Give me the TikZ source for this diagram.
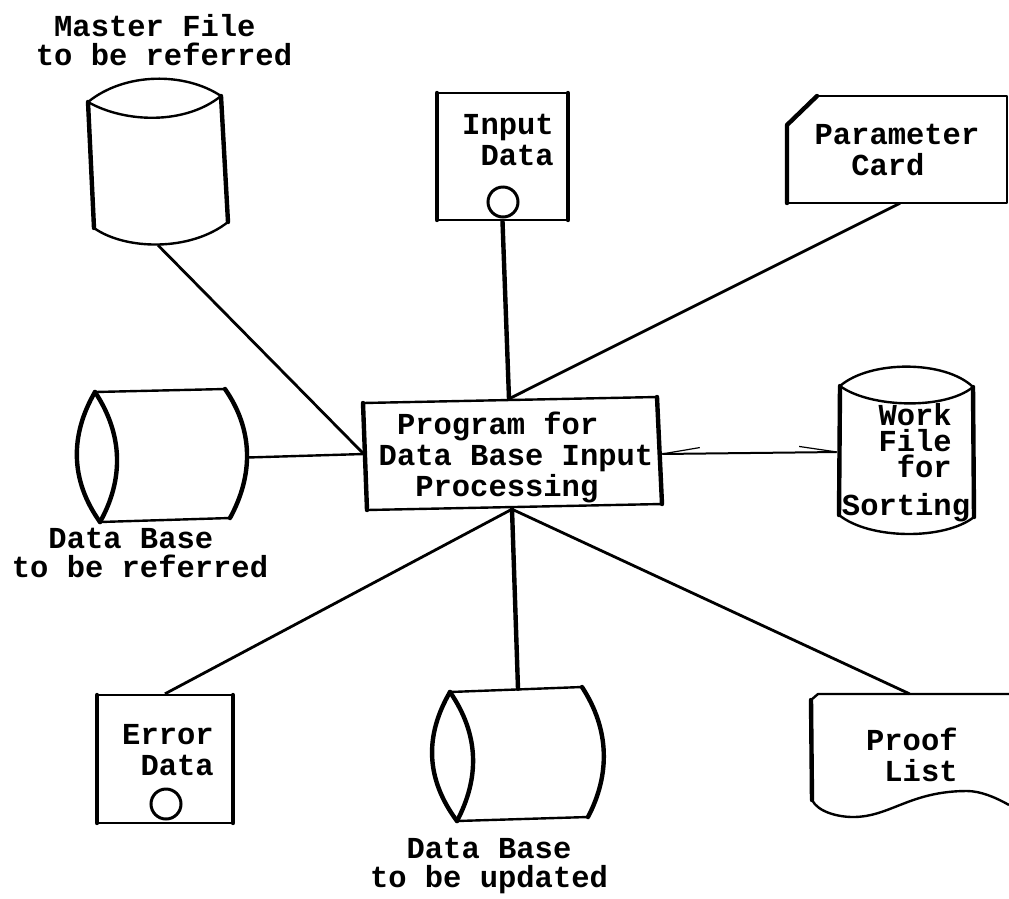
\documentclass[tikz,border=0pt]{standalone}
\usepackage{fontspec}
\setmonofont{Liberation Mono}
\usetikzlibrary{arrows.meta,calc}
\tikzset{
  drumbox/.style={inner sep=0pt, minimum width=#1},
  flowtext/.style={inner sep=0pt, align=center, font=\ttfamily\bfseries\fontsize{30.5}{31}\selectfont},
  captext/.style={inner sep=0pt, align=center, font=\ttfamily\bfseries\fontsize{30.5}{29}\selectfont},
  edge/.style={line width=2.4pt, line join=round},
  heavy/.style={line width=4.4pt, line join=round, line cap=round},
  ring/.style={draw, circle, line width=3pt, minimum size=30pt, inner sep=0pt},
  link/.style={line width=2.8pt},
  barb/.style={line width=2pt, shorten <=-6pt, shorten >=-6pt, {Straight Barb[right,length=38pt,width=12pt,line width=1.2pt]}-{Straight Barb[left,length=38pt,width=12pt,line width=1.2pt]}}}
\begin{document}
\begin{tikzpicture}[x=1pt,y=-1pt]
  \useasboundingbox (0,0) rectangle (1009,898);
  % master file
  \node[drumbox=140pt, minimum height=165pt] (master) at (158,162.5) {};
  \node[captext] (mastertext) at (164,40) {Master File~~\\to be referred};
  \draw[edge] (88,102) .. controls (125,72) and (185,72) .. (221,96);
  \draw[edge] (88,102) .. controls (125,123) and (185,125) .. (221,96);
  \draw[edge] (94,228) .. controls (125,250) and (190,252) .. (228,222);
  \draw[heavy] (88,102) -- (94,228) (221,96) -- (228,222);
  % input data
  \node[draw, edge, minimum width=131pt, minimum height=127pt] (input) at (502.5,156.5) {};
  \draw[heavy] (437,93) -- (437,220) (568,93) -- (568,220);
  \node[flowtext] (inputtext) at (508,140) {Input\\~Data};
  \node[ring] (inputdot) at (503,202) {};
  % parameter card
  \node[drumbox=220pt, minimum height=107pt] (param) at (897,149.5) {};
  \node[flowtext] (paramtext) at (897,150) {Parameter\\Card~~};
  \draw[edge] (817,96) -- (1007,96) -- (1007,203) -- (787,203);
  \draw[heavy] (817,96) -- (787,125) -- (787,203);
  % data base to be referred
  \node[drumbox=170pt, minimum height=133pt] (dbref) at (162,457.5) {};
  \node[captext] (dbreftext) at (140,552.5) {Data Base~~\\to be referred};
  \draw[edge] (95,392) -- (225,389) (100,522) -- (230,518);
  \draw[heavy] (95,392) .. controls (70,435) and (70,480) .. (100,522);
  \draw[heavy] (95,392) .. controls (123.5,435) and (123.5,480) .. (100,522);
  \draw[heavy] (225,389) .. controls (253.5,430) and (253.5,475) .. (230,518);
  % program
  \node[drumbox=296pt, minimum height=110pt] (prog) at (512,454) {};
  \node[flowtext] (progtext) at (516,457) {Program for~~~\\Data Base Input\\Processing~~};
  \draw[edge] (363,403) -- (657,397) (367,510) -- (662,504);
  \draw[heavy] (363,403) -- (367,510) (657,397) -- (662,504);
  % work file
  \node[drumbox=134pt, minimum height=167pt] (work) at (906,452) {};
  \node[flowtext, align=left, font=\ttfamily\bfseries\fontsize{30.5}{26}\selectfont] (worktext) at (906,463) {~~Work\\~~File\\~~~for\\[12pt]Sorting};
  \draw[edge] (840,386) .. controls (870,360) and (945,360) .. (973,387);
  \draw[edge] (840,386) .. controls (870,408) and (945,410) .. (973,387);
  \draw[edge] (839,515) .. controls (870,540) and (945,540) .. (974,517);
  \draw[heavy] (840,386) -- (839,515) (973,387) -- (974,517);
  % error data
  \node[draw, edge, minimum width=136pt, minimum height=128pt] (error) at (165,759) {};
  \draw[heavy] (97,695) -- (97,823) (233,695) -- (233,823);
  \node[flowtext] (errortext) at (168,750) {Error\\~Data};
  \node[ring] (errordot) at (166,804) {};
  % data base to be updated
  \node[drumbox=172pt, minimum height=132pt] (dbupd) at (518,755) {};
  \node[captext] (dbupdtext) at (489,866) {Data Base\\to be updated};
  \draw[edge] (450,692) -- (582,687) (457,821) -- (588,817);
  \draw[heavy] (450,692) .. controls (425,735) and (425,778) .. (457,821);
  \draw[heavy] (450,692) .. controls (479.5,735) and (479.5,778) .. (457,821);
  \draw[heavy] (582,687) .. controls (610,730) and (610,775) .. (588,817);
  % proof list
  \node[drumbox=199pt, minimum height=123pt] (proof) at (909.5,755.5) {};
  \node[flowtext] (prooftext) at (921,755) {Proof~~\\List};
  \draw[edge] (1009,694) -- (818,694) -- (811,700);
  \draw[edge] (812,800) .. controls (818,812) and (838,817) .. (853,817) .. controls (890,817) and (910,791) .. (967,791) .. controls (980,791) and (995,797) .. (1009,805);
  \draw[heavy] (811,700) -- (812,800);
  % connectors
  \draw[link] (master.south) -- (prog.west);
  \draw[heavy] (input.south) -- ($(prog.north)+(-3,0)$);
  \draw[link] ($(param.south)+(3,0)$) -- ($(prog.north)+(-3,0)$);
  \draw[edge] (dbref.east) -- (prog.west);
  \draw[barb] (prog.east) -- (work.west);
  \draw[link] (error.north) -- (prog.south);
  \draw[heavy] (dbupd.north) -- (prog.south);
  \draw[link] (proof.north) -- (prog.south);
\end{tikzpicture}
\end{document}
